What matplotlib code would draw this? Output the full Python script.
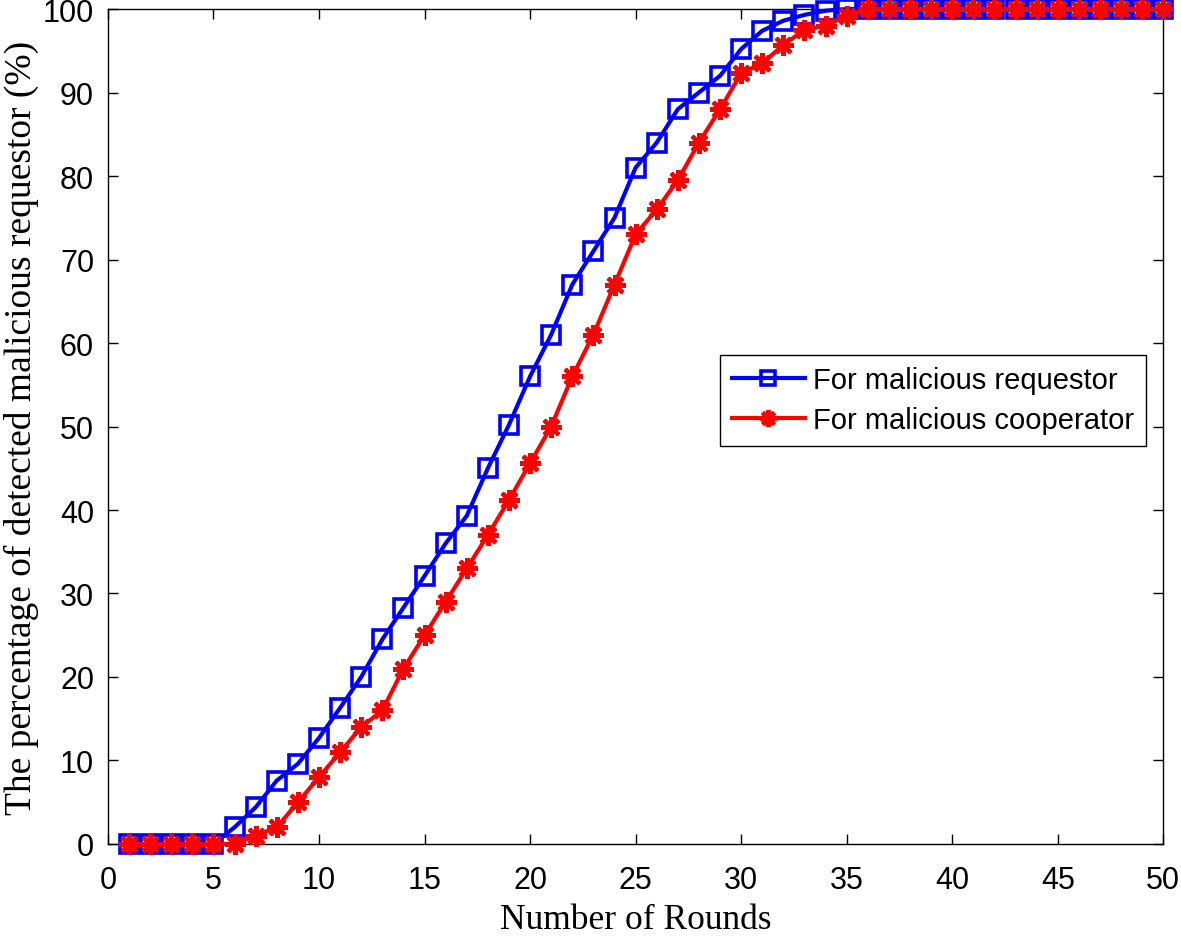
import matplotlib
matplotlib.use("Agg")
import matplotlib.pyplot as plt

# detection rate per round
rounds = list(range(1, 51))
requestor = [0, 0, 0, 0, 0, 2, 4.4, 7.6, 9.6, 12.7,
             16.3, 20, 24.5, 28.3, 32.1, 36, 39.3, 45, 50.2, 56,
             61, 67, 71, 75, 81, 84, 88, 90, 92, 95.2,
             97.4, 98.6, 99.3, 99.8, 100] + [100] * 15
cooperator = [0, 0, 0, 0, 0, 0, 1, 2, 5, 8,
              11, 14, 16, 21, 25, 29, 33, 37, 41.2, 45.6,
              50, 56, 61, 67, 73, 76, 79.5, 84, 88, 92.3,
              93.5, 95.7, 97.5, 98, 99.2] + [100] * 15

xticks = list(range(0, 51, 5))
yticks = list(range(0, 101, 10))

fig = plt.figure(figsize=(11.81, 9.37), dpi=100)
ax = fig.add_axes([0.0914, 0.0982, 0.8936, 0.8911])

ax.plot(rounds, requestor, color="#0000ff", lw=3, marker="s", ms=13,
        mfc="none", mec="#0000ff", mew=2.6, label="For malicious requestor",
        clip_on=False, zorder=3)
ax.plot(rounds, cooperator, color="#ff0000", lw=3, marker=(8, 2, 0), ms=15,
        mec="#ff0000", mew=3, label="For malicious cooperator",
        clip_on=False, zorder=4)

ax.set_xlim(0, 50)
ax.set_ylim(0, 100)
ax.set_xticks(xticks)
ax.set_yticks(yticks)
ax.tick_params(direction="in", top=True, right=True, length=7, width=1,
               labelsize=22)
ax.tick_params(axis="x", pad=15)
ax.tick_params(axis="y", pad=10)
for lab in ax.get_xticklabels() + ax.get_yticklabels():
    lab.set_fontfamily("Liberation Sans")
for s in ax.spines.values():
    s.set_linewidth(1)

ax.set_xlabel("Number of Rounds", family="Liberation Serif", fontsize=25.5, labelpad=6)
ax.set_ylabel("The percentage of detected malicious requestor (%)",
              family="Liberation Serif", fontsize=27, labelpad=3)

leg = ax.legend(loc="upper left", bbox_to_anchor=(0.58, 0.586), borderaxespad=0,
                prop={"family": "Liberation Sans", "size": 21},
                fancybox=False, edgecolor="black", framealpha=1, markerscale=0.8,
                handlelength=2.5, handletextpad=0.3, borderpad=0.4,
                labelspacing=0.4)
leg.get_frame().set_linewidth(1)
leg.set_zorder(5)

fig.savefig("out.png", dpi=100)
